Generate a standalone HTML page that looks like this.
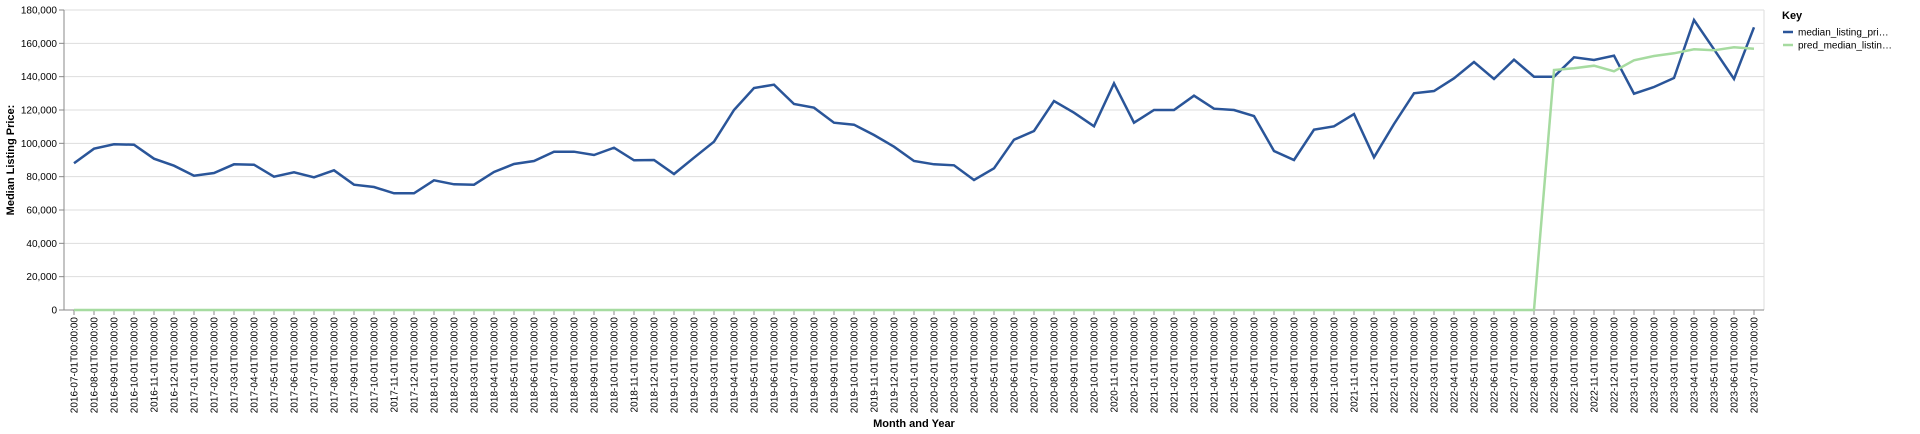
<!DOCTYPE html>
<html><head><meta charset="utf-8">
<style>
html,body{margin:0;padding:0;background:#fff;}
svg{display:block;font-family:"Liberation Sans",Arial,sans-serif;}
</style></head>
<body>
<svg id="chart" width="1920" height="434" viewBox="0 0 1920 434">
  <g id="grid"></g>
  <g id="yaxis"></g>
  <g id="xaxis"></g>
  <g id="series"></g>
  <text x="14" y="160" transform="rotate(-90 14 160)" text-anchor="middle" font-size="11" font-weight="bold" fill="#000">Median Listing Price:</text>
  <text x="914" y="427" text-anchor="middle" font-size="11" font-weight="bold" fill="#000">Month and Year</text>
  <g>
    <text x="1782" y="19" font-size="11" font-weight="bold" fill="#000">Key</text>
    <g>
      <line x1="1783" y1="32" x2="1793" y2="32" stroke="#2a5599" stroke-width="2.5"/>
      <text x="1798" y="35.5" font-size="10" fill="#000">median_listing_pri…</text>
    </g>
    <g>
      <line x1="1783" y1="45" x2="1793" y2="45" stroke="#a6dba0" stroke-width="2.5"/>
      <text x="1798" y="48.5" font-size="10" fill="#000">pred_median_listin…</text>
    </g>
  </g>
</svg>
<script>
const yTicks = [0,20000,40000,60000,80000,100000,120000,140000,160000,180000];
const actualValues = [88000,96800,99400,99200,90800,86600,80600,82200,87400,87200,80000,82600,79600,83800,75200,73800,70000,70000,77800,75400,75200,82800,87600,89400,95000,95000,93000,97400,89800,90000,81600,91400,101000,120000,133200,135200,123600,121400,112400,111200,105000,98000,89400,87400,86800,78000,85000,102200,107400,125400,118400,110200,136000,112400,120000,120000,128600,120800,120000,116400,95400,90000,108200,110200,117600,91600,111600,130000,131400,139000,148800,138600,150200,140000,140000,151600,150000,152600,129800,133800,139200,174000,156400,138600,169600];
const predValues = [0,0,0,0,0,0,0,0,0,0,0,0,0,0,0,0,0,0,0,0,0,0,0,0,0,0,0,0,0,0,0,0,0,0,0,0,0,0,0,0,0,0,0,0,0,0,0,0,0,0,0,0,0,0,0,0,0,0,0,0,0,0,0,0,0,0,0,0,0,0,0,0,0,0,144000,145000,146600,143200,149800,152400,154000,156400,155800,157600,156800];
const startYear = 2016, startMonth = 7, monthCount = 85;

const NS="http://www.w3.org/2000/svg";
const X0=64, X1=1764, Y0=310, Y1=10, YMAX=180000;
const categories=[];
for(let i=0;i<monthCount;i++){
  const m=startMonth-1+i, y=startYear+Math.floor(m/12), mm=(m%12)+1;
  categories.push(y+"-"+String(mm).padStart(2,"0")+"-01T00:00:00");
}
const step=(X1-X0)/monthCount;
function xs(i){return X0+step*(i+0.5);}
function ys(v){return Y0-(v/YMAX)*(Y0-Y1);}
function el(tag,attrs,parent){const e=document.createElementNS(NS,tag);for(const k in attrs)e.setAttribute(k,attrs[k]);parent.appendChild(e);return e;}
const grid=document.getElementById("grid"), yaxis=document.getElementById("yaxis"), xaxis=document.getElementById("xaxis"), series=document.getElementById("series");
yTicks.forEach(t=>{
  const y=ys(t);
  const g=el("line",{x1:X0,x2:X1,y1:y,y2:y,stroke:"#ddd","stroke-width":1},grid);
  
  
  el("line",{x1:X0-5,x2:X0,y1:y,y2:y,stroke:"#888"},yaxis);
  const tx=el("text",{x:X0-7,y:y+3.5,"text-anchor":"end","font-size":10,fill:"#000"},yaxis);
  tx.textContent=t.toLocaleString("en-US");
  
  
});
el("line",{x1:X1,x2:X1,y1:Y1,y2:Y0,stroke:"#ddd"},grid);
el("line",{x1:X0,x2:X1,y1:Y1,y2:Y1,stroke:"#ddd"},grid);
el("line",{x1:X0,x2:X0,y1:Y1,y2:Y0,stroke:"#888"},yaxis);
el("line",{x1:X0,x2:X1,y1:Y0,y2:Y0,stroke:"#888"},xaxis);
categories.forEach((c,i)=>{
  const x=xs(i);
  el("line",{x1:x,x2:x,y1:Y0,y2:Y0+5,stroke:"#888"},xaxis);
  const tx=el("text",{x:x+3.5,y:Y0+7,"text-anchor":"end","font-size":10,fill:"#000",transform:"rotate(-90 "+(x+3.5)+" "+(Y0+7)+")"},xaxis);
  tx.textContent=c;
  
  
});
function line(vals,color,name){
  const d=vals.map((v,i)=>(i?"L":"M")+xs(i).toFixed(1)+","+ys(v).toFixed(1)).join("");
  const p=el("path",{d:d,fill:"none",stroke:color,"stroke-width":2.5,"stroke-linejoin":"miter"},series);
  
  
}
line(actualValues,"#2a5599","median-listing-price-line");
line(predValues,"#a6dba0","pred-median-listing-price-line");
</script>
</body></html>
